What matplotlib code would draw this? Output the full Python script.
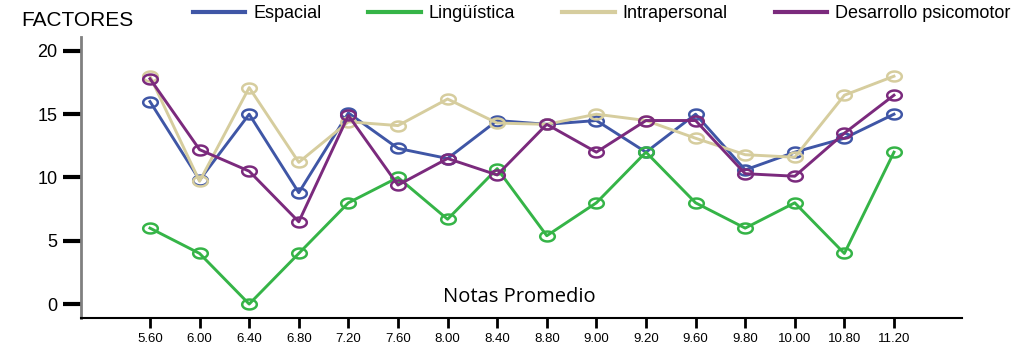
import matplotlib.pyplot as plt
import numpy as np
from matplotlib.path import Path

# categories on the x axis (Notas Promedio)
notas = ['5.60', '6.00', '6.40', '6.80', '7.20', '7.60', '8.00', '8.40',
         '8.80', '9.00', '9.20', '9.60', '9.80', '10.00', '10.80', '11.20']

# factor values
espacial = [16, 9.8, 15, 8.8, 15.1, 12.3, 11.5, 14.5, 14.2, 14.5, 12, 15, 10.6, 12, 13.1, 15]
linguistica = [6, 4, 0, 4, 8, 10, 6.7, 10.7, 5.4, 8, 12, 8, 6, 8, 4, 12]
intrapersonal = [18, 9.7, 17.1, 11.2, 14.4, 14.1, 16.2, 14.3, 14.2, 15, 14.5, 13.1, 11.8, 11.6, 16.5, 18]
psicomotor = [17.8, 12.2, 10.5, 6.5, 14.9, 9.4, 11.5, 10.2, 14.2, 12, 14.5, 14.5, 10.3, 10.1, 13.5, 16.5]

series = [
    ('Espacial', espacial, '#3f56a6'),
    ('Lingüística', linguistica, '#35b447'),
    ('Intrapersonal', intrapersonal, '#d6cd9e'),
    ('Desarrollo psicomotor', psicomotor, '#7b2a7d'),
]

plt.rcParams['font.family'] = ['Liberation Sans', 'DejaVu Sans']

# flat ellipse marker like the original
t = np.linspace(0, 2 * np.pi, 60)
ellipse = Path(np.column_stack([np.cos(t), 0.68 * np.sin(t)]), closed=True)

fig = plt.figure(figsize=(10.31, 3.59), dpi=100)
ax = fig.add_axes([0.0786, 0.1142, 0.8544, 0.7828])

x = np.arange(len(notas))
for name, vals, col in series:
    ax.plot(x, vals, color=col, lw=2.1, marker=ellipse, ms=10.5,
            mfc='none', mec=col, mew=1.8, label=name)

ax.set_xlim(-1.39, 16.37)
ax.set_ylim(-1.1, 21.1)
ax.set_yticks([0, 5, 10, 15, 20])
ax.set_xticks(x)
ax.set_xticklabels(notas, fontsize=9.5)
ax.tick_params(axis='y', length=13, width=3, labelsize=13, pad=4, color='black')
ax.tick_params(axis='x', length=7, width=2, pad=4, color='black')

for s in ['top', 'right']:
    ax.spines[s].set_visible(False)
ax.spines['left'].set_color('#808080')
ax.spines['left'].set_linewidth(2)
ax.spines['bottom'].set_color('black')
ax.spines['bottom'].set_linewidth(1.5)

ax.text(0.5 * (x[0] + x[-1]) - 0.05, -0.2, 'Notas Promedio', ha='center', va='bottom',
        fontsize=14.5, family=['Open Sans', 'DejaVu Sans'])

fig.text(0.021, 0.944, 'FACTORES', fontsize=15, va='center', ha='left')

leg_handles = [plt.Line2D([], [], color=c, lw=3) for _, _, c in series]
fig.legend(leg_handles, [n for n, _, _ in series], loc='center left',
           bbox_to_anchor=(0.187, 0.962), ncol=4, frameon=False, fontsize=13,
           handlelength=2.9, handletextpad=0.45, columnspacing=2.6,
           borderaxespad=0, borderpad=0)

fig.savefig('out.png', dpi=100)
